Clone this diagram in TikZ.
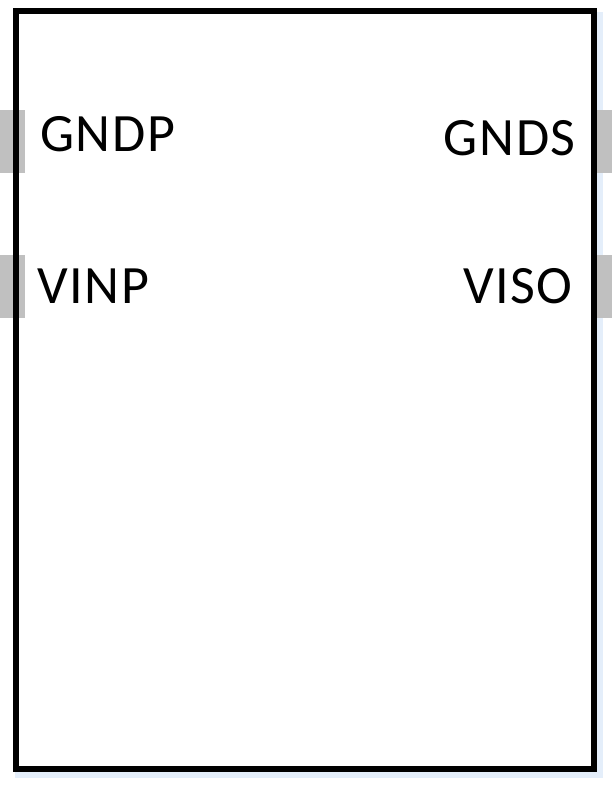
\documentclass[tikz,border=0pt]{standalone}
\usepackage{fontspec}
\setmainfont{Carlito}[LetterSpace=3]
\definecolor{pingray}{RGB}{192,192,192}
\definecolor{glow}{RGB}{228,238,250}
\begin{document}
\begin{tikzpicture}[x=1pt,y=-1pt,
  pinbox/.style={fill=pingray,draw=none,inner sep=0pt,minimum width=25pt,minimum height=63pt},
  lbl/.style={font=\fontsize{54}{60}\selectfont,inner sep=0pt}]
\useasboundingbox (0,0) rectangle (612,793);
% soft glow
\draw[glow,line width=8pt] (19,16) rectangle (599,774);
\fill[white] (16,11) rectangle (594,768.5);
% pins
\node[pinbox,anchor=north west] (p1) at (0,110) {};
\node[pinbox,anchor=north west] (p2) at (0,255) {};
\node[pinbox,anchor=north east,minimum width=18pt] (p3) at (612,110) {};
\node[pinbox,anchor=north east,minimum width=18pt] (p4) at (612,255) {};
% box
\node[draw=black,line width=6pt,inner sep=0pt,minimum width=578pt,minimum height=757.5pt] (box) at (305,389.75) {};
% labels
\node[lbl,anchor=base west] (gndp) at (40,151) {GNDP};
\node[lbl,anchor=base west] (vinp) at (37,303) {VINP};
\node[lbl,anchor=base east] (gnds) at (576,155) {GNDS};
\node[lbl,anchor=base east] (viso) at (573,303) {VISO};
\end{tikzpicture}
\end{document}
